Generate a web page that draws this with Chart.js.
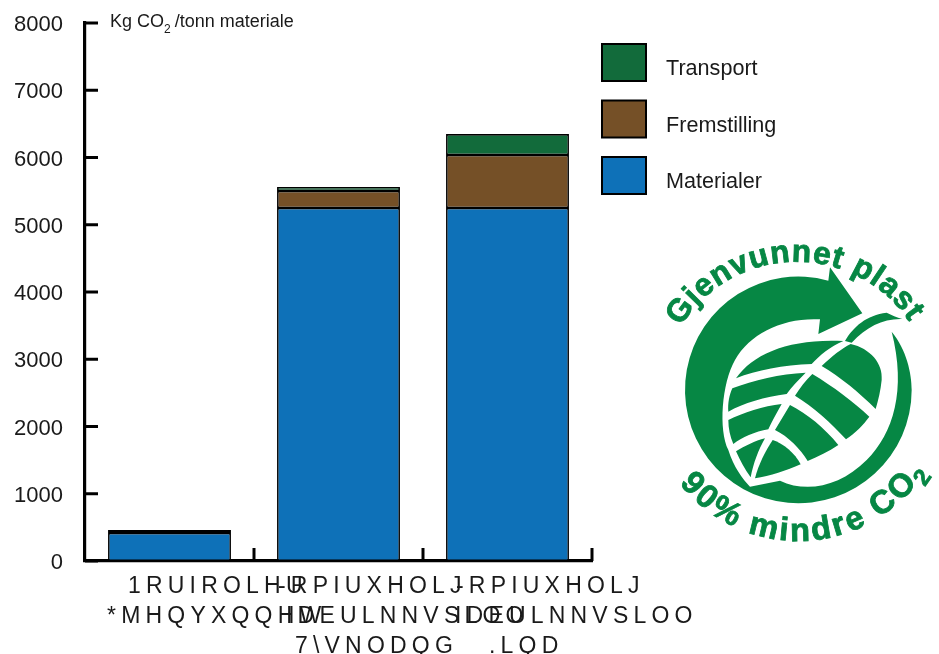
<!DOCTYPE html>
<html lang="no">
<head>
  <meta charset="UTF-8">
  <title>Kg CO2 per tonn materiale</title>
  <script src="https://cdn.jsdelivr.net/npm/chart.js"></script>
  <style>
    html, body { margin: 0; padding: 0; background: #fff; overflow: hidden; }
    #wrap { position: relative; width: 939px; height: 654px; }
    #logo { position: absolute; left: 640px; top: 230px; width: 299px; height: 330px; overflow: visible; }
    #logo text { font-family: "Liberation Sans", Arial, sans-serif; font-weight: bold; fill: #068744; stroke: #068744; stroke-width: 2.5; }
  </style>
</head>
<body>
  <div id="wrap">
    <canvas id="chart" width="939" height="654"></canvas>
    <!-- logo, drawn in 3x units of its own box -->
    <svg id="logo" viewBox="0 0 897 990">
      <defs>
        <path id="arcTop" d="M 122 290 A 408 408 0 0 1 850 355"/>
        <path id="arcBottom" d="M 118 760 A 455 455 0 0 0 900 640"/>
      </defs>
      <g fill="#068744">
        <path d="M 570 112 L 667 250 L 535 312 L 540 268 C 430 262 330 310 285 390 C 245 460 235 600 265 660 C 280 710 310 750 330 770 L 420 752 C 500 790 600 770 680 690 C 760 610 800 480 755 305 C 800 360 815 430 815 480 A 340 340 0 1 1 565 152 Z"/>
        <path d="M 288 445 C 340 370 450 325 610 333 C 570 350 540 375 515 402 C 430 405 350 420 288 445 Z"/>
        <path d="M 545 408 C 575 380 605 355 632 342 C 690 355 730 400 725 450 C 722 480 715 510 707 537 C 660 490 600 440 545 408 Z"/>
        <path d="M 277 475 C 340 450 420 432 497 428 C 475 450 455 470 440 492 C 375 500 310 520 265 545 C 263 520 268 495 277 475 Z"/>
        <path d="M 517 432 C 580 470 640 515 688 560 C 670 585 645 610 618 628 C 575 580 520 530 465 497 C 480 475 497 450 517 432 Z"/>
        <path d="M 265 570 C 310 548 370 528 425 522 C 410 550 395 575 385 598 C 345 605 305 622 280 642 C 270 620 265 595 265 570 Z"/>
        <path d="M 450 525 C 500 550 555 595 595 645 C 565 665 535 680 503 693 C 480 655 445 620 405 600 C 420 575 435 550 450 525 Z"/>
        <path d="M 288 664 C 315 648 345 632 375 625 C 355 660 340 700 332 742 C 315 720 300 690 288 664 Z"/>
        <path d="M 345 745 C 355 705 375 665 398 630 C 430 640 465 670 482 703 C 440 722 390 738 345 745 Z"/>
        <path d="M 615 333 C 640 290 680 255 740 248 C 755 255 770 262 787 267 C 730 265 680 290 635 338 Z"/>
      </g>
      <text font-size="95" letter-spacing="3"><textPath href="#arcTop">Gjenvunnet plast</textPath></text>
      <text font-size="98" letter-spacing="8"><textPath href="#arcBottom">90% mindre CO<tspan font-size="70" dy="24" dx="-4">2</tspan></textPath></text>
    </svg>
  </div>

  <script>
    // values
    const categories = [
      ["1RUIROLHU", "*MHQYXQQHW"],
      ["-RPIUXHOLJ", "IDEULNNVSLOO", "7\\VNODQG"],
      ["-RPIUXHOLJ", "IDEULNNVSLOO", ".LQD"]
    ];
    const materialer = [416, 5249, 5249];
    const fremstilling = [30, 253, 788];
    const transport = [15, 59, 312];
    const yTicks = [0, 1000, 2000, 3000, 4000, 5000, 6000, 7000, 8000];

    const fontName = '"Liberation Sans", Arial, sans-serif';
    const inkColor = '#1a1a1a';

    // the label lines do not sit centred under the bars: shift from bar centre
    const labelShift = [
      [-41.5, -62.5],
      [-60.5, -52.5, -43.5],
      [-51.5, -52.5, -18.5]
    ];
    const labelBaselines = [593, 623, 653];

    // y labels sit 2px under their tick in the original
    const nudgeYLabels = {
      id: 'nudgeYLabels',
      beforeDraw(chart) {
        chart.scales.y.getLabelItems(chart.chartArea).forEach(item => {
          item.options.translation[1] += 2;
        });
      }
    };

    // ticks point inwards, which the axis cannot do by itself
    const innerTicks = {
      id: 'innerTicks',
      afterDraw(chart) {
        const ctx = chart.ctx, x = chart.scales.x, y = chart.scales.y;
        ctx.save();
        ctx.strokeStyle = '#000';
        ctx.lineWidth = 3;
        yTicks.forEach(v => {
          const py = y.getPixelForValue(v);
          ctx.beginPath();
          ctx.moveTo(x.left, py);
          ctx.lineTo(x.left + 13, py);
          ctx.stroke();
        });
        categories.forEach((c, i) => {
          const px = x.getPixelForValue(i) + (x.getPixelForValue(1) - x.getPixelForValue(0)) / 2;
          ctx.beginPath();
          ctx.moveTo(px, y.bottom);
          ctx.lineTo(px, y.bottom - 13);
          ctx.stroke();
        });
        ctx.restore();
      }
    };

    const categoryLabels = {
      id: 'categoryLabels',
      afterDraw(chart) {
        const ctx = chart.ctx, x = chart.scales.x;
        ctx.save();
        ctx.font = '23px ' + fontName;
        ctx.fillStyle = inkColor;
        ctx.letterSpacing = '5.2px';
        ctx.textAlign = 'left';
        chart.data.labels.forEach((lines, i) => {
          lines.forEach((line, j) => {
            ctx.fillText(line, x.getPixelForValue(i) + labelShift[i][j], labelBaselines[j]);
          });
        });
        ctx.restore();
      }
    };

    const sideLegend = {
      id: 'sideLegend',
      afterDraw(chart) {
        const ctx = chart.ctx;
        const rows = chart.data.datasets.slice().reverse();
        ctx.save();
        ctx.font = '21.6px ' + fontName;
        ctx.textAlign = 'left';
        rows.forEach((ds, i) => {
          const top = 44 + i * 56.5;
          ctx.fillStyle = ds.backgroundColor;
          ctx.strokeStyle = '#000';
          ctx.lineWidth = 2;
          ctx.fillRect(602, top, 44, 37);
          ctx.strokeRect(602, top, 44, 37);
          ctx.fillStyle = inkColor;
          ctx.fillText(ds.label, 666, top + 31);
        });
        ctx.restore();
      }
    };

    const unitLabel = {
      id: 'unitLabel',
      afterDraw(chart) {
        const ctx = chart.ctx;
        let px = 110;
        ctx.save();
        ctx.fillStyle = inkColor;
        ctx.textAlign = 'left';
        ctx.font = '18px ' + fontName;
        ctx.fillText('Kg CO', px, 27);
        px += ctx.measureText('Kg CO').width;
        ctx.font = '12px ' + fontName;
        ctx.fillText('2', px, 33);
        px += ctx.measureText('2').width;
        ctx.font = '18px ' + fontName;
        ctx.fillText(' /tonn materiale', px - 1, 27);
        ctx.restore();
      }
    };

    function barSet(label, data, color) {
      return {
        label: label,
        data: data,
        backgroundColor: color,
        borderColor: '#000',
        borderWidth: 1.6,
        borderSkipped: false,
        barPercentage: 0.727,
        categoryPercentage: 1
      };
    }

    new Chart(document.getElementById('chart'), {
      type: 'bar',
      data: {
        labels: categories,
        datasets: [
          barSet('Materialer', materialer, '#0e71b8'),
          barSet('Fremstilling', fremstilling, '#755027'),
          barSet('Transport', transport, '#126b3b')
        ]
      },
      options: {
        responsive: false,
        animation: false,
        layout: { padding: { top: 23, right: 347, bottom: 0, left: 0 } },
        plugins: { legend: { display: false }, tooltip: { enabled: false } },
        scales: {
          x: {
            stacked: true,
            afterFit(scale) { scale.height = 93; },
            grid: { display: false, drawTicks: false },
            border: { color: '#000', width: 3.2 },
            ticks: { display: false }
          },
          y: {
            stacked: true,
            min: 0,
            max: 8000,
            afterFit(scale) {
              scale.width = 85;
              scale.paddingTop = 0;
              scale.paddingBottom = 0;
            },
            grid: { display: false, drawTicks: false },
            border: { color: '#000', width: 3.2 },
            ticks: {
              stepSize: 1000,
              padding: 22,
              color: inkColor,
              font: { family: fontName, size: 22 },
              callback: v => String(v)
            }
          }
        }
      },
      plugins: [nudgeYLabels, innerTicks, categoryLabels, sideLegend, unitLabel]
    });
  </script>
</body>
</html>
